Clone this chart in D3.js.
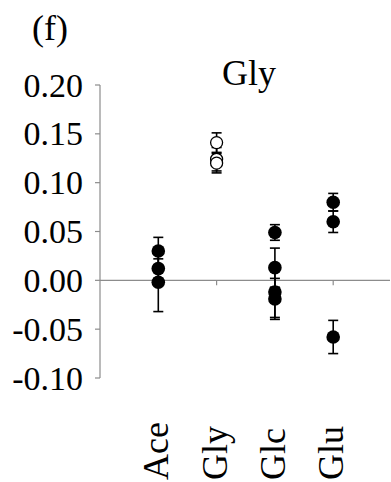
<!DOCTYPE html>
<html>
<head>
<meta charset="utf-8">
<script src="https://cdn.jsdelivr.net/npm/d3@7"></script>
<style>
  html, body { margin: 0; padding: 0; background: #fff; }
</style>
</head>
<body>
<div id="chart"></div>
<script>
// Data
const panelLabel = "(f)";
const chartTitle = "Gly";
const categories = ["Ace", "Gly", "Glc", "Glu"];
const yTicks = [-0.10, -0.05, 0.00, 0.05, 0.10, 0.15, 0.20];
const xTicks = [2, 4];

const aceValues = [0.030, 0.012, -0.002];
const aceErrors = [0.014, 0.010, 0.030];
const glyValues = [0.141, 0.124, 0.120];
const glyErrors = [0.010, 0.012, 0.010];
const glcValues = [0.049, 0.013, -0.012, -0.019];
const glcErrors = [0.008, 0.020, 0.026, 0.021];
const gluValues = [0.080, 0.060, -0.058];
const gluErrors = [0.009, 0.011, 0.017];
// open markers for the substrate of this panel
const openCategory = "Gly";

const groups = [
  { cat: "Ace", values: aceValues, errors: aceErrors },
  { cat: "Gly", values: glyValues, errors: glyErrors },
  { cat: "Glc", values: glcValues, errors: glcErrors },
  { cat: "Glu", values: gluValues, errors: gluErrors }
];

const FONT = "'Liberation Serif', 'Times New Roman', Times, serif";
const W = 391, H = 482;
const svg = d3.select("#chart").append("svg")
  .attr("width", W).attr("height", H)
  .attr("font-family", FONT);

// scales
const x = d3.scaleLinear().domain([0, 5]).range([100, 391.5]);
const y = d3.scaleLinear().domain([-0.10, 0.20]).range([378, 85]);
const axisColor = "#8c8c8c";

// y axis
svg.append("line")
  .attr("x1", x(0)).attr("x2", x(0))
  .attr("y1", y(0.20)).attr("y2", y(-0.10))
  .attr("stroke", axisColor).attr("stroke-width", 1.2);

yTicks.forEach(t => {
  svg.append("line")
    .attr("x1", x(0) - 5).attr("x2", x(0))
    .attr("y1", y(t)).attr("y2", y(t))
    .attr("stroke", axisColor).attr("stroke-width", 1.2);
  svg.append("text")
    .attr("x", 83)
    .attr("y", y(t) + 11.5)
    .attr("text-anchor", "end")
    .attr("font-size", 34)
    .text(t.toFixed(2));
});

// x axis at zero
svg.append("line")
  .attr("x1", x(0)).attr("x2", 390)
  .attr("y1", y(0)).attr("y2", y(0))
  .attr("stroke", axisColor).attr("stroke-width", 1.2);

xTicks.forEach(t => {
  svg.append("line")
    .attr("x1", x(t)).attr("x2", x(t))
    .attr("y1", y(0)).attr("y2", y(0) + 5)
    .attr("stroke", axisColor).attr("stroke-width", 1.2);
});

// category labels, rotated
categories.forEach((c, i) => {
  svg.append("text")
    .attr("transform", `translate(${x(i + 1) + 10},480) rotate(-90)`)
    .attr("text-anchor", "start")
    .attr("font-size", 36)
    .text(c);
});

// error bars
groups.forEach(g => {
  const cx = x(categories.indexOf(g.cat) + 1);
  g.values.forEach((v, j) => {
    const e = g.errors[j];
    const eb = svg.append("g").attr("stroke", "#000").attr("stroke-width", 1.6);
    eb.append("line").attr("x1", cx).attr("x2", cx)
      .attr("y1", y(v + e)).attr("y2", y(v - e));
    [v + e, v - e].forEach(yy => {
      eb.append("line").attr("x1", cx - 5).attr("x2", cx + 5)
        .attr("y1", y(yy)).attr("y2", y(yy));
    });
  });
});

// markers
groups.forEach(g => {
  const cx = x(categories.indexOf(g.cat) + 1);
  const open = g.cat === openCategory;
  g.values.forEach(v => {
    svg.append("circle")
      .attr("cx", cx).attr("cy", y(v))
      .attr("r", open ? 6 : 6.8)
      .attr("fill", open ? "#fff" : "#000")
      .attr("stroke", "#000")
      .attr("stroke-width", open ? 1.3 : 0);
  });
});

// titles
svg.append("text")
  .attr("x", 32).attr("y", 40)
  .attr("font-size", 36)
  .text(panelLabel);

svg.append("text")
  .attr("x", 249).attr("y", 85)
  .attr("text-anchor", "middle")
  .attr("font-size", 36)
  .text(chartTitle);
</script>
</body>
</html>
